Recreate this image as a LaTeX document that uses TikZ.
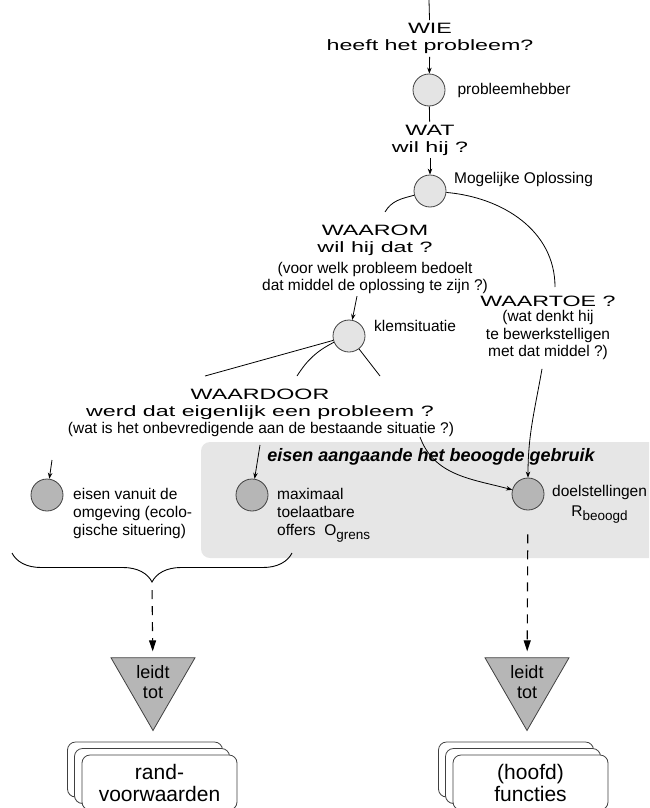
\documentclass[tikz,border=0pt]{standalone}
\usepackage{fontspec}
\setmainfont{Liberation Sans}
\newfontfamily\headfont[FakeStretch=1.55]{Liberation Sans}
\usepackage{xcolor}
\usetikzlibrary{positioning, arrows.meta, shapes.geometric, decorations.pathreplacing}

\definecolor{lightdot}{HTML}{E4E4E4}
\definecolor{darkdot}{HTML}{B6B6B6}
\definecolor{zonegray}{HTML}{E6E6E6}
\definecolor{rimgray}{HTML}{404040}

\newcommand{\lowtext}[1]{\raisebox{-4.5pt}{\fontsize{13.5}{14}\selectfont #1}}

\begin{document}
\begin{tikzpicture}[
    x=1pt, y=1pt,
    qdot/.style={
        circle,
        draw=rimgray,
        fill=lightdot,
        line width=0.8pt,
        minimum size=32pt,
        inner sep=0pt
    },
    adot/.style={
        qdot,
        fill=darkdot
    },
    lbl/.style={
        anchor=west,
        inner sep=0pt,
        align=left,
        font=\fontsize{15.5}{18}\selectfont
    },
    question/.style={
        align=center,
        inner sep=3pt,
        font=\headfont\fontsize{15}{17}\selectfont
    },
    hint/.style={
        align=center,
        inner sep=2pt,
        font=\fontsize{15.5}{17.5}\selectfont
    },
    link/.style={
        line width=0.8pt
    },
    arrow/.style={
        line width=0.8pt,
        -{Stealth[length=6pt,width=4.5pt]}
    },
    dasharrow/.style={
        line width=1.1pt,
        dash pattern=on 9pt off 7pt,
        -{Triangle[length=11pt,width=7pt]}
    },
    leads/.style={
        regular polygon,
        regular polygon sides=3,
        shape border rotate=180,
        draw=rimgray,
        fill=darkdot,
        line width=0.8pt,
        minimum size=97pt,
        inner sep=0pt
    },
    card/.style={
        rectangle,
        rounded corners=8pt,
        draw=rimgray,
        fill=white,
        line width=0.8pt,
        minimum width=155pt,
        minimum height=55pt,
        align=center,
        font=\fontsize{21}{22}\selectfont
    }
]

\clip (0,0) rectangle (649,-808);

% Grey zone for the use requirements

\fill[zonegray, rounded corners=9pt] (201,-442) rectangle (690,-558);
\node[font=\bfseries\itshape\fontsize{18}{20}\selectfont] (zone) at (431,-457) {eisen aangaande het beoogde gebruik};

% Questions and answers

\coordinate (topin) at (429,0);

\node[question] (wie) at (430,-38.5) {WIE\\heeft het probleem?};

\node[qdot] (c1) at (429,-90) {};
\node[lbl, right=12pt of c1] (c1lbl) {probleemhebber};

\node[question] (wat) at (430,-140) {WAT\\wil hij ?};

\node[qdot] (c2) at (430,-191) {};
\node[lbl] (c2lbl) at (454,-179) {Mogelijke Oplossing};

\node[question] (waarom) at (375,-240) {WAAROM\\wil hij dat ?};
\node[hint] (waaromhint) at (375,-278) {(voor welk probleem bedoelt\\dat middel de oplossing te zijn ?)};

\node[question] (waartoe) at (548,-301.5) {WAARTOE ?};
\node[hint] (waartoehint) at (548,-335) {(wat denkt hij\\te bewerkstelligen\\met dat middel ?)};

\node[qdot] (c3) at (349,-336) {};
\node[lbl] (c3lbl) at (374,-326) {klemsituatie};

\node[question] (waardoor) at (260,-404) {WAARDOOR\\werd dat eigenlijk een probleem ?};
\node[hint] (waardoorhint) at (261,-429) {(wat is het onbevredigende aan de bestaande situatie ?)};

\node[adot] (c4) at (47,-495) {};
\node[lbl, anchor=north west] (c4lbl) at (73,-488) {eisen vanuit de\\omgeving (ecolo-\\gische situering)};

\node[adot] (c5) at (252,-495) {};
\node[lbl, anchor=north west] (c5lbl) at (277,-488) {maximaal\\toelaatbare\\offers~~O\lowtext{grens}};

\node[adot] (c6) at (528,-494) {};
\node[lbl, anchor=north west, align=center] (c6lbl) at (552,-485) {doelstellingen\\[2pt]R\lowtext{beoogd}};

% Free ends

\coordinate (aroend) at (385,-212);
\coordinate (atoeend) at (555,-287);
\coordinate (k1) at (205,-376);
\coordinate (k2) at (297,-376);
\coordinate (k3) at (380,-376);
\coordinate (w1) at (52,-460);
\coordinate (w2) at (260,-445);
\coordinate (w3) at (420,-437);
\coordinate (bl) at (12,-553);
\coordinate (br) at (292,-553);
\coordinate (bracetip) at (152,-582);

% Leads to

\node[leads, label={[font=\fontsize{18}{20}\selectfont, align=center]center:leidt\\tot}] (lead1) at (153,-682) {};
\node[leads, label={[font=\fontsize{18}{20}\selectfont, align=center]center:leidt\\tot}] (lead2) at (527,-682) {};

\node[card] (rv3) at (145,-769.5) {};
\node[card] (rv2) at (152,-776) {};
\node[card] (rv1) at (159.5,-782.5) {rand-\\voorwaarden};

\node[card] (hf3) at (516,-769.5) {};
\node[card] (hf2) at (523,-776) {};
\node[card] (hf1) at (530.5,-782.5) {(hoofd)\\functies};

% Arrows

\draw[link] (topin) -- (wie);
\draw[arrow] (wie) -- (c1);
\draw[link] (c1) -- (wat);
\draw[arrow] (wat) -- (c2);

\draw[link] (c2) to[out=195, in=60] (aroend);
\draw[link] (c2) to[out=-5, in=90] (atoeend);

\draw[arrow] ([xshift=-18pt]waaromhint.south) -- (c3);
\draw[arrow] ([xshift=-6pt, yshift=-7pt]waartoehint.south) to[out=-100, in=90] (c6);

\draw[link] (c3) -- (k1);
\draw[link] (c3) to[bend right=15] (k2);
\draw[link] (c3) -- (k3);

\draw[arrow] (w1) -- (c4);
\draw[arrow] (w2) -- (c5);
\draw[arrow] (w3) to[out=-70, in=165] (c6);

\draw[link, line width=0.9pt, decorate, decoration={brace, mirror, amplitude=29pt}] (bl) -- (br);

\draw[dasharrow, shorten <=8pt, shorten >=6pt] (bracetip) -- (lead1);
\draw[dasharrow, shorten <=24pt, shorten >=6pt] (c6) -- (lead2);

\end{tikzpicture}
\end{document}
